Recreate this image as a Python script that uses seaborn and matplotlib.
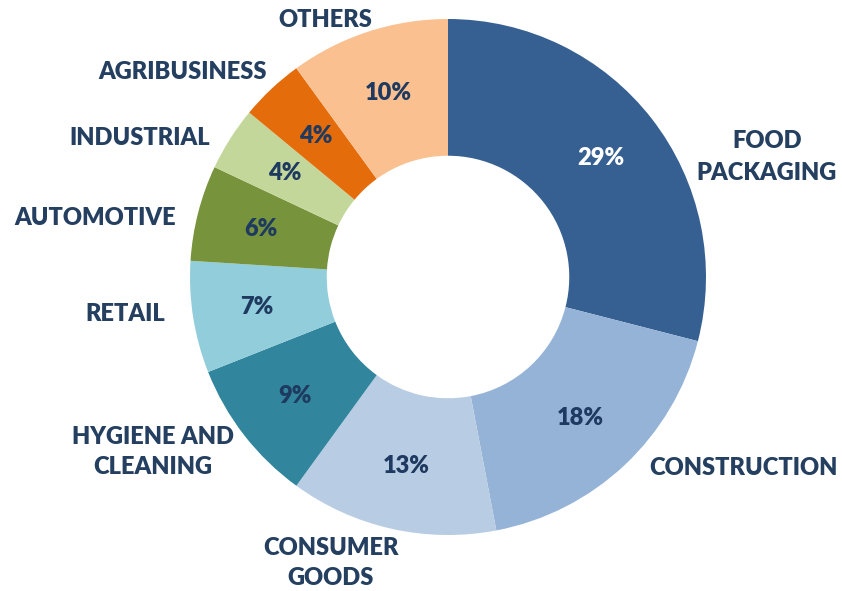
import matplotlib
matplotlib.use("Agg")
import matplotlib.pyplot as plt
import seaborn as sns
import numpy as np

categories = ["FOOD\nPACKAGING", "CONSTRUCTION", "CONSUMER\nGOODS", "HYGIENE AND\nCLEANING",
              "RETAIL", "AUTOMOTIVE", "INDUSTRIAL", "AGRIBUSINESS", "OTHERS"]
shares = [29, 18, 13, 9, 7, 6, 4, 4, 10]
colors = ["#366092", "#95B3D7", "#B8CCE4", "#31859C", "#92CDDC",
          "#77933C", "#C4D79B", "#E46C0A", "#FAC090"]
pct_colors = ["white"] + ["#1F3A60"] * 8

# outer label anchor positions in pixel coordinates (x, y from top)
label_pos = [(767, 157), (743, 468), (331, 563), (153, 452), (125, 314),
             (95, 218), (140, 138), (183, 72), (325, 20)]
label_spacing = [1.6, 1.3, 1.45, 1.45, 1.3, 1.3, 1.3, 1.3, 1.3]

sns.set_theme(style="white")
plt.rcParams["font.family"] = ["Lato", "DejaVu Sans"]

W, H = 842, 591
fig = plt.figure(figsize=(W / 100, H / 100), dpi=100)
ax = fig.add_axes([0, 0, 1, 1])

cx, cy, R = 448, H - 277, 258
wedges, texts = ax.pie(
    shares, colors=colors, startangle=90, counterclock=False,
    center=(cx, cy), radius=R, frame=True,
    wedgeprops=dict(width=R * 0.53, linewidth=0),
)
ax.set_xlim(0, W)
ax.set_ylim(0, H)
ax.set_axis_off()

for w, v, c in zip(wedges, shares, pct_colors):
    mid = np.deg2rad((w.theta1 + w.theta2) / 2)
    r = R * 0.75
    ax.text(cx + r * np.cos(mid), cy + r * np.sin(mid), f"{v}%",
            ha="center", va="center", fontsize=17, fontweight="heavy", color=c)

for lab, (px, py), ls in zip(categories, label_pos, label_spacing):
    ax.text(px, H - py, lab, ha="center", va="center", fontsize=17,
            fontweight="heavy", color="#243F60", linespacing=ls)

fig.savefig("out.png", dpi=100)
